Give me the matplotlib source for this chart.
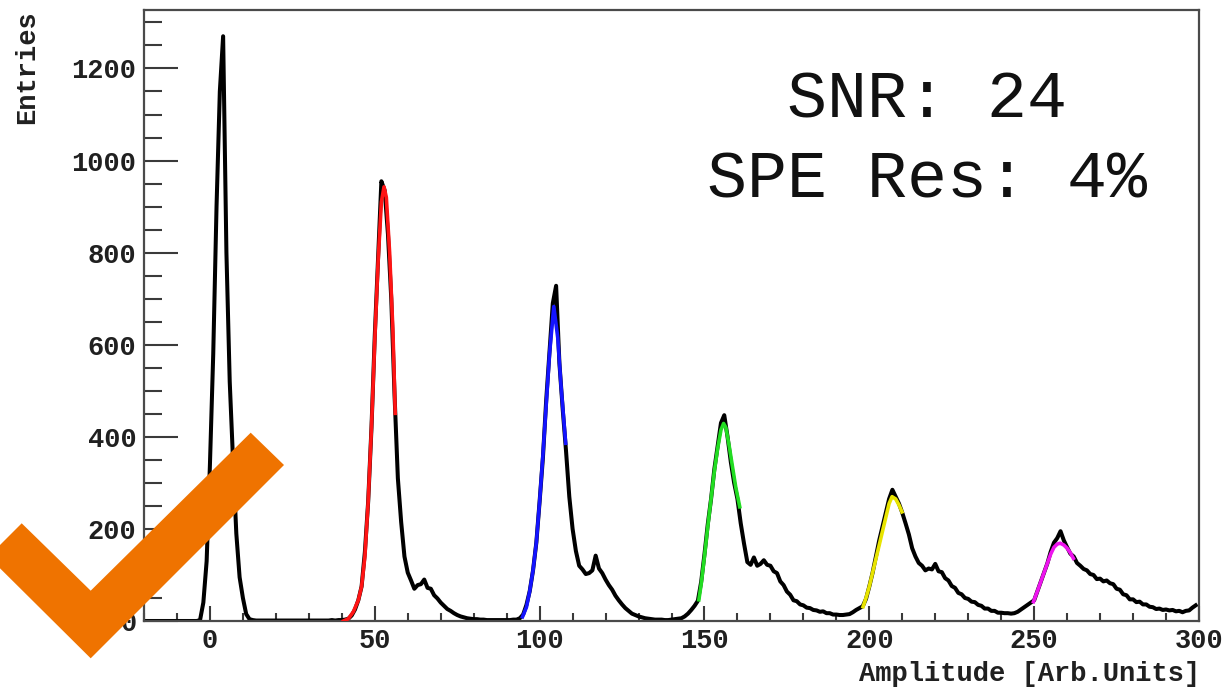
import matplotlib
matplotlib.use("Agg")
import matplotlib.pyplot as plt  # type: ignore
import numpy as np
from matplotlib.patches import Polygon  # type: ignore
from matplotlib.ticker import MultipleLocator  # type: ignore

plt.rcParams["font.family"] = ["Liberation Mono", "DejaVu Sans Mono"]
plt.rcParams["font.weight"] = "bold"

# histogram, one entry per amplitude unit starting at -20
first_bin: int = -20
counts: list[int] = [
    0, 0, 0, 0, 0, 0, 0, 0, 0, 0,                      # -20
    0, 0, 0, 0, 0, 0, 0, 2, 40, 130,                   # -10
    340, 580, 900, 1150, 1270, 800, 520, 350, 190, 95, # 0
    50, 15, 4, 2, 1, 1, 1, 1, 1, 1,                    # 10
    1, 1, 1, 1, 1, 1, 1, 1, 1, 1,                      # 20
    1, 1, 1, 1, 1, 1, 1, 2, 1, 2,                      # 30
    2, 3, 5, 12, 25, 45, 75, 150, 260, 420,            # 40
    620, 790, 955, 935, 840, 700, 490, 310, 215, 140,  # 50
    105, 88, 70, 78, 80, 90, 72, 70, 56, 49,           # 60
    40, 33, 26, 22, 17, 13, 10, 8, 6, 5,               # 70
    4, 4, 3, 3, 2, 2, 2, 2, 2, 2,                      # 80
    2, 2, 3, 3, 6, 14, 35, 65, 110, 170,               # 90
    260, 355, 480, 585, 690, 728, 560, 460, 370, 270,  # 100
    200, 152, 120, 112, 102, 104, 110, 142, 114, 104,  # 110
    90, 78, 68, 55, 45, 36, 28, 22, 16, 13,            # 120
    10, 8, 6, 5, 4, 3, 3, 3, 2, 2,                     # 130
    3, 4, 5, 6, 10, 16, 24, 33, 44, 85,                # 140
    145, 210, 265, 330, 380, 430, 447, 400, 345, 300,  # 150
    265, 212, 168, 128, 122, 138, 120, 124, 132, 122,  # 160
    120, 108, 104, 86, 78, 64, 57, 45, 43, 36,         # 170
    34, 29, 28, 24, 23, 20, 21, 17, 17, 14,            # 180
    14, 13, 13, 14, 15, 19, 24, 28, 32, 48,            # 190
    75, 105, 140, 175, 205, 235, 265, 285, 270, 255,   # 200
    235, 212, 188, 158, 140, 126, 120, 110, 114, 112,  # 210
    124, 108, 106, 93, 88, 76, 72, 61, 58, 50,         # 220
    48, 42, 41, 35, 33, 27, 27, 22, 22, 18,            # 230
    18, 17, 17, 16, 17, 20, 25, 30, 35, 40,            # 240
    45, 65, 85, 105, 125, 150, 170, 180, 195, 175,     # 250
    160, 146, 140, 126, 120, 113, 110, 102, 100, 91,   # 260
    92, 86, 88, 82, 80, 70, 68, 58, 56, 47,            # 270
    47, 41, 42, 36, 36, 31, 30, 26, 27, 24,            # 280
    25, 23, 24, 21, 22, 19, 22, 23, 29, 34,            # 290
]
amplitude = np.arange(first_bin, first_bin + len(counts))

# fitted peaks
pe1_x = [40.5, 42, 43.5, 45, 46, 47, 48, 49, 50, 51, 52, 52.8, 53.5, 54.5, 55.5, 56.2]
pe1_y = [0, 5, 20, 45, 75, 140, 260, 420, 610, 780, 910, 943, 920, 800, 630, 451]
pe2_x = [94.8, 96, 97, 98, 99, 100, 101, 102, 103, 104.3, 105.5, 106.5, 107.9]
pe2_y = [9, 30, 65, 110, 170, 260, 360, 470, 580, 683, 615, 510, 386]
pe3_x = [148.3, 149, 150, 151, 152, 153, 154, 155, 155.8, 156.5, 157.5, 158.5, 159.5, 160.7]
pe3_y = [46, 80, 140, 205, 265, 325, 375, 415, 429, 420, 380, 335, 290, 248]
pe4_x = [198.1, 199, 200, 201, 202, 203, 204, 205, 206, 206.9, 208, 209, 209.9]
pe4_y = [31, 50, 75, 105, 135, 165, 195, 225, 255, 270, 265, 252, 237]
pe5_x = [249.8, 251, 252, 253, 254, 255, 256, 257, 257.9, 259, 260, 261, 261.9]
pe5_y = [42, 65, 85, 105, 125, 145, 160, 167, 169, 165, 158, 148, 136]
fit_colors = ["#ff1414", "#1414ff", "#22dd22", "#e8e400", "#ee14ee"]

snr_text = "SNR: 24"
res_text = "SPE Res: 4%"

W, H = 1223, 690
fig = plt.figure(figsize=(W / 100, H / 100), dpi=100)
ax = fig.add_axes([144 / W, 1 - 621 / H, (1199 - 144) / W, (621 - 10) / H])

ax.plot(amplitude, counts, color="black", lw=2.9, zorder=2)
fits = [(pe1_x, pe1_y), (pe2_x, pe2_y), (pe3_x, pe3_y), (pe4_x, pe4_y), (pe5_x, pe5_y)]
for (fx, fy), color in zip(fits, fit_colors):
    ax.plot(fx, fy, color=color, lw=2.6, zorder=3)

ax.set_xlim(-20, 300)
ax.set_ylim(0, 1327)
ax.xaxis.set_major_locator(MultipleLocator(50))
ax.xaxis.set_minor_locator(MultipleLocator(10))
ax.yaxis.set_major_locator(MultipleLocator(200))
ax.yaxis.set_minor_locator(MultipleLocator(50))

ax.tick_params(which="both", direction="in", top=False, right=False,
               color="#3a3a3a", width=1.5, labelsize=19.5, labelcolor="#202020")
ax.tick_params(axis="y", which="major", length=24.5, pad=5.5)
ax.tick_params(axis="y", which="minor", length=13)
ax.tick_params(axis="x", which="major", length=11, pad=5)
ax.tick_params(axis="x", which="minor", length=6)
for spine in ax.spines.values():
    spine.set_color("#4a4a4a")
    spine.set_linewidth(1.6)

fig.text(27 / W, 1 - 10 / H, "Entries", rotation=90, ha="center", va="top",
         fontsize=19.5, color="#202020")
fig.text(1200 / W, 1 - 674 / H, "Amplitude [Arb.Units]", ha="right", va="center",
         fontsize=19.5, color="#202020")

fig.text(927 / W, 1 - 118 / H, snr_text, ha="center", va="baseline",
         fontsize=48, fontweight="normal", color="#111111")
fig.text(927 / W, 1 - 197 / H, res_text, ha="center", va="baseline",
         fontsize=48, fontweight="normal", color="#111111")

# orange tick overlay in the lower left corner
check_px = [(0, 545), (21.7, 523.3), (90.7, 590.7), (250.7, 432.7),
            (284, 465), (90.7, 658.3), (0, 568.3)]
check = Polygon([(px / W, 1 - py / H) for px, py in check_px], closed=True,
                transform=fig.transFigure, facecolor="#ef7300", edgecolor="none", zorder=10)
fig.patches.append(check)

fig.savefig("out.png", dpi=100)
plt.close(fig)
